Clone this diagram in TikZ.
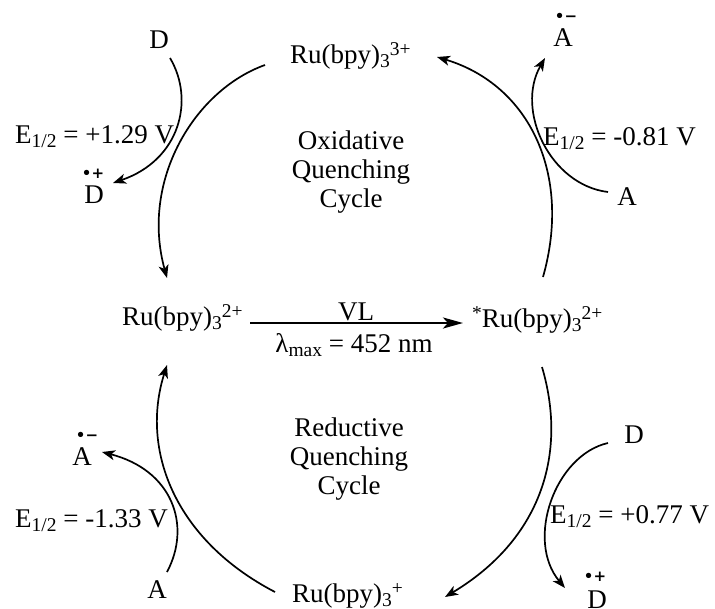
\documentclass[tikz,border=0pt]{standalone}
\usepackage{fontspec}
\setmainfont{Liberation Serif}
\newfontfamily\markfont{DejaVu Sans}
\usetikzlibrary{arrows.meta}
\newcommand\Supx[1]{\raisebox{8pt}{\fontsize{19.5}{19.5}\selectfont #1}}
\newcommand\Subx[1]{\raisebox{-4.5pt}{\fontsize{19.5}{19.5}\selectfont #1}}
\begin{document}
\begin{tikzpicture}[x=1pt,y=-1pt,
  txt/.style={inner sep=0pt, font=\fontsize{27}{29}\selectfont},
  radm/.style={inner sep=0pt, font=\markfont\bfseries\fontsize{15}{15}\selectfont},
  cyc/.style={line width=1.7pt, -{Stealth[length=13pt,width=10pt,inset=3.5pt]}},
  harrow/.style={line width=2.6pt, -{Stealth[length=20pt,width=11pt,inset=5pt]}}]
\useasboundingbox (0,0) rectangle (715,608);
% texts
\node[txt, anchor=base] (Dtl) at (159,48) {D};
\node[txt, anchor=base west] (Ru3) at (290,63) {Ru(bpy)\Subx{3}\Supx{3+}};
\node[txt, anchor=base] (Atr) at (563,46) {A};
\node[radm] (Atrm) at (566,17) {•−};
\node[txt, anchor=base west] (E1) at (15,143) {E\Subx{1/2} = +1.29 V};
\node[txt, anchor=base] (Dl) at (94,203) {D};
\node[radm] (Dlm) at (93,174) {•+};
\node[txt, align=center, anchor=north] (ox) at (351,131) {Oxidative\\Quenching\\Cycle};
\node[txt, anchor=base west] (E2) at (543,145) {E\Subx{1/2} = -0.81 V};
\node[txt, anchor=base] (Ar) at (627,205) {A};
\node[txt, anchor=base west] (Ru2) at (122,325) {Ru(bpy)\Subx{3}\Supx{2+}};
\node[txt, anchor=base west] (Ru2s) at (472,327) {\Supx{*}Ru(bpy)\Subx{3}\Supx{2+}};
\node[txt, anchor=base] (VL) at (356,320) {VL};
\node[txt, anchor=base] (lam) at (354,352) {λ\Subx{max} = 452 nm};
\node[txt, align=center, anchor=north] (red) at (349,418) {Reductive\\Quenching\\Cycle};
\node[txt, anchor=base] (Al) at (82,465) {A};
\node[radm] (Alm) at (87,436) {•−};
\node[txt, anchor=base west] (E3) at (15,527) {E\Subx{1/2} = -1.33 V};
\node[txt, anchor=base] (Dr) at (634,443) {D};
\node[txt, anchor=base west] (E4) at (550,523) {E\Subx{1/2} = +0.77 V};
\node[txt, anchor=base] (Ab) at (157,598) {A};
\node[txt, anchor=base west] (Ru1) at (292,602) {Ru(bpy)\Subx{3}\Supx{+}};
\node[txt, anchor=base] (Db) at (597,608) {D};
\node[radm] (Dbm) at (595,577) {•+};
% connector end points
\coordinate (c1s) at (265,65);  \coordinate (c1e) at (167,278);
\coordinate (c2s) at (543,277); \coordinate (c2e) at (437,57);
\coordinate (c3s) at (542,367); \coordinate (c3e) at (445,597);
\coordinate (c4s) at (275,592); \coordinate (c4e) at (167,365);
\coordinate (c5s) at (170,58);  \coordinate (c5e) at (113,183);
\coordinate (c6s) at (608,192); \coordinate (c6e) at (545,58);
\coordinate (c7s) at (167,572); \coordinate (c7e) at (102,452);
\coordinate (c8s) at (608,443); \coordinate (c8e) at (565,588);
\coordinate (hs) at (250,323);  \coordinate (he) at (463,323);
% connectors
\draw[cyc] (c1s) .. controls (195,90) and (140,180) .. (c1e);
\draw[cyc] (c2s) .. controls (572,175) and (530,85) .. (c2e);
\draw[cyc] (c3s) .. controls (568,455) and (540,540) .. (c3e);
\draw[cyc] (c4s) .. controls (175,540) and (140,450) .. (c4e);
\draw[cyc] (c5s) .. controls (195,100) and (180,160) .. (c5e);
\draw[cyc] (c6s) .. controls (550,185) and (515,110) .. (c6e);
\draw[cyc] (c7s) .. controls (192,525) and (172,470) .. (c7e);
\draw[cyc] (c8s) .. controls (555,455) and (525,540) .. (c8e);
\draw[harrow] (hs) -- (he);
\end{tikzpicture}
\end{document}
